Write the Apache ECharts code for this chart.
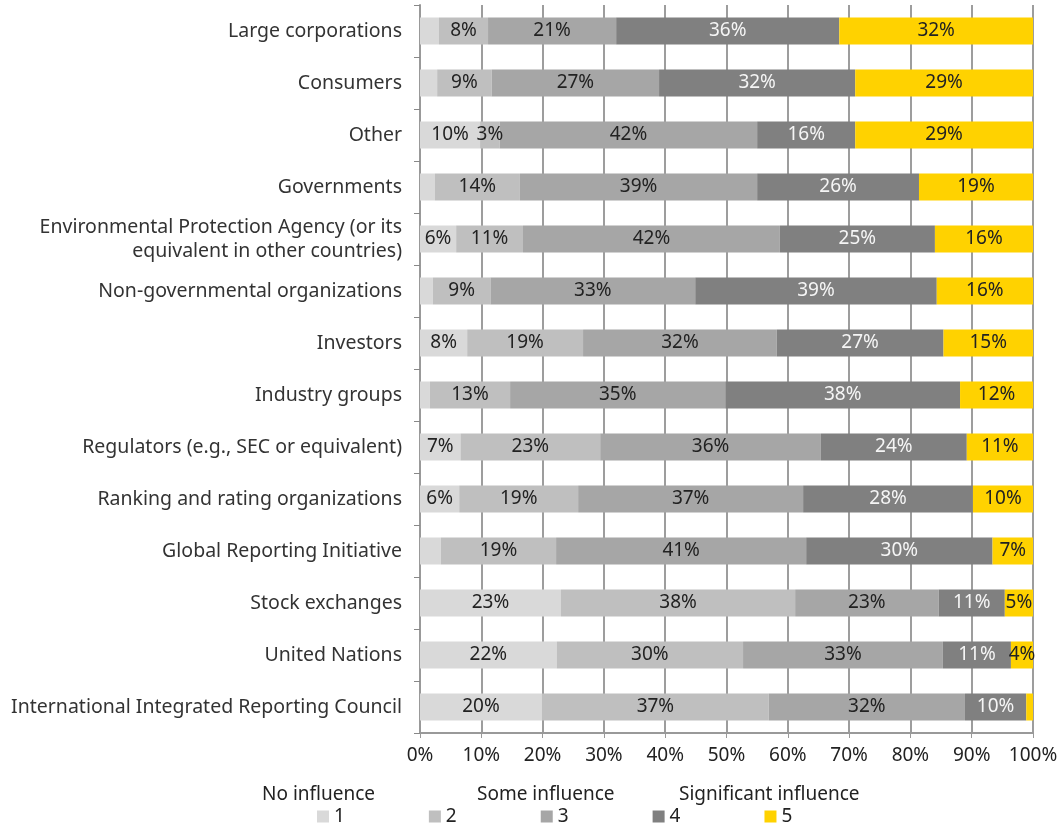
<!DOCTYPE html>
<html>
<head>
<meta charset="utf-8">
<script src="https://cdn.jsdelivr.net/npm/echarts@6/dist/echarts.min.js"></script>
<style>html,body{margin:0;padding:0;background:#fff}#c{width:1063px;height:829px}</style>
</head>
<body>
<div id="c"></div>
<script>
const categories = [
  "Large corporations",
  "Consumers",
  "Other",
  "Governments",
  "Environmental Protection Agency (or its\nequivalent in other countries)",
  "Non-governmental organizations",
  "Investors",
  "Industry groups",
  "Regulators (e.g., SEC or equivalent)",
  "Ranking and rating organizations",
  "Global Reporting Initiative",
  "Stock exchanges",
  "United Nations",
  "International Integrated Reporting Council"
];
const seriesNames = ["1", "2", "3", "4", "5"];
const level1 = [3.1, 2.8, 9.8, 2.4, 5.9, 2.1, 7.7, 1.6, 6.6, 6.4, 3.4, 23.0, 22.3, 19.9];
const level2 = [8.0, 8.9, 3.2, 13.9, 10.9, 9.4, 18.9, 13.1, 22.8, 19.4, 18.8, 38.2, 30.4, 37.0];
const level3 = [20.9, 27.3, 42.0, 38.7, 41.9, 33.4, 31.6, 35.1, 36.0, 36.7, 40.8, 23.4, 32.6, 32.0];
const level4 = [36.4, 32.0, 16.0, 26.4, 25.3, 39.4, 27.2, 38.3, 23.8, 27.7, 30.4, 10.8, 11.1, 10.0];
const level5 = [31.6, 29.0, 29.0, 18.6, 16.0, 15.7, 14.6, 11.9, 10.8, 9.8, 6.6, 4.6, 3.6, 1.1];
const hiddenLabels = [[0, 1, 3, 5, 7, 10], [], [], [], [13]];
const scaleTexts = ["No influence", "Some influence", "Significant influence"];
const xTicks = [0, 10, 20, 30, 40, 50, 60, 70, 80, 90, 100];

const levels = [level1, level2, level3, level4, level5];
const colors = ["#d9d9d9", "#bfbfbf", "#a6a6a6", "#808080", "#ffd200"];
const labelColors = ["#222", "#222", "#222", "#f5f5f5", "#222"];
const FONT = "Noto Sans";

const chart = echarts.init(document.getElementById('c'));
const series = levels.map((arr, si) => ({
  name: seriesNames[si],
  type: 'bar',
  stack: 'total',
  barWidth: 27,
  itemStyle: { color: colors[si] },
  label: {
    show: true,
    position: 'inside',
    fontFamily: FONT,
    fontSize: 19,
    color: labelColors[si],
    formatter: p => Math.round(p.value) + '%'
  },
  data: arr.map((v, ci) => hiddenLabels[si].includes(ci) ? { value: v, label: { show: false } } : v)
}));

chart.setOption({
  animation: false,
  textStyle: { fontFamily: FONT },
  grid: { left: 420, right: 30, top: 5, height: 728 },
  xAxis: {
    type: 'value', min: xTicks[0], max: xTicks[xTicks.length - 1], interval: 10,
    axisLine: { show: true, lineStyle: { color: '#999', width: 2 } },
    axisTick: { show: true, length: 5, lineStyle: { color: '#999', width: 1 } },
    axisLabel: { formatter: '{value}%', fontSize: 19, color: '#222', margin: 13, fontFamily: FONT },
    splitLine: { show: true, lineStyle: { color: '#9d9d9d', width: 2 } }
  },
  yAxis: {
    type: 'category', inverse: true, data: categories,
    axisLine: { show: true, lineStyle: { color: '#999', width: 2 } },
    axisTick: { show: true, length: 6, lineStyle: { color: '#888', width: 1 } },
    axisLabel: { fontSize: 19.5, color: '#333', margin: 18, fontFamily: FONT, align: 'right', lineHeight: 24 }
  },
  legend: {
    data: seriesNames,
    left: 312, top: 802,
    itemWidth: 12, itemHeight: 12, itemGap: 84,
    icon: 'rect',
    textStyle: { fontSize: 19, color: '#222', fontFamily: FONT }
  },
  graphic: [
    { type: 'text', left: 262, top: 785, style: { text: scaleTexts[0], font: '19px "Noto Sans"', fill: '#222' } },
    { type: 'text', left: 477, top: 785, style: { text: scaleTexts[1], font: '19px "Noto Sans"', fill: '#222' } },
    { type: 'text', left: 679, top: 785, style: { text: scaleTexts[2], font: '19px "Noto Sans"', fill: '#222' } }
  ],
  series: series
});
</script>
</body>
</html>
